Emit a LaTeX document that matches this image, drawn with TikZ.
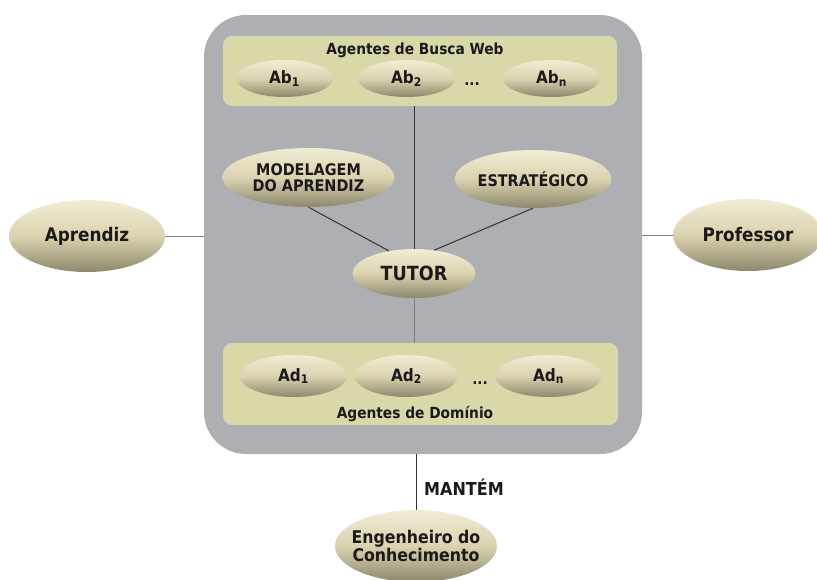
\documentclass[tikz,border=0pt]{standalone}
\usepackage{fontspec}
\setmainfont{DejaVu Sans Condensed}
\usetikzlibrary{shapes.geometric}
\definecolor{boxgray}{HTML}{ADAFB3}
\definecolor{innerbox}{HTML}{D9D8A8}
\definecolor{elltop}{HTML}{F1ECD4}
\definecolor{ellmid}{HTML}{DAD3B0}
\definecolor{ellbot}{HTML}{8C886C}
\definecolor{ink}{HTML}{1A1A1A}
\tikzset{
  ell/.style={ellipse, inner sep=0pt, top color=elltop, bottom color=ellbot,
    middle color=ellmid, text=ink, font=\bfseries, align=center},
  inline/.style={draw=black!80, line width=1pt},
  outline/.style={draw=black!50, line width=1pt},
  lbl/.style={text=ink, font=\bfseries, inner sep=0pt},
}
\begin{document}
\begin{tikzpicture}[x=1pt,y=-1pt]
\useasboundingbox (0,0) rectangle (817,579);
% outer gray panel
\node[fill=boxgray, rounded corners=42pt, minimum width=438pt, minimum height=439pt, inner sep=0pt] (outer) at (423,234.5) {};
% inner boxes
\node[fill=innerbox, rounded corners=9pt, minimum width=394pt, minimum height=70pt, inner sep=0pt] (topbox) at (420,71) {};
\node[fill=innerbox, rounded corners=9pt, minimum width=395pt, minimum height=82pt, inner sep=0pt] (botbox) at (420.5,384) {};
% titles
\node[lbl, font=\bfseries\fontsize{15.3}{17}\selectfont, anchor=base] (t1) at (415,54) {Agentes de Busca Web};
\node[lbl, font=\bfseries\fontsize{15.3}{17}\selectfont, anchor=base] (t2) at (415,418) {Agentes de Domínio};
% web search agents
\node[ell, minimum width=97pt, minimum height=37pt, font=\bfseries\fontsize{17}{19}\selectfont] (ab1) at (284.5,78.5) {Ab\textsubscript{1}};
\node[ell, minimum width=97pt, minimum height=37pt, font=\bfseries\fontsize{17}{19}\selectfont] (ab2) at (406.5,78.5) {Ab\textsubscript{2}};
\node[ell, minimum width=97pt, minimum height=37pt, font=\bfseries\fontsize{17}{19}\selectfont] (abn) at (551.5,78.5) {Ab\textsubscript{n}};
\node[lbl, font=\bfseries\fontsize{15}{17}\selectfont, anchor=base] (dots1) at (472,85) {...};
% domain agents
\node[ell, minimum width=107pt, minimum height=42pt, font=\bfseries\fontsize{17}{19}\selectfont] (ad1) at (293.5,376) {Ad\textsubscript{1}};
\node[ell, minimum width=103pt, minimum height=42pt, font=\bfseries\fontsize{17}{19}\selectfont] (ad2) at (406.5,376) {Ad\textsubscript{2}};
\node[ell, minimum width=107pt, minimum height=42pt, font=\bfseries\fontsize{17}{19}\selectfont] (adn) at (548.5,376) {Ad\textsubscript{n}};
\node[lbl, font=\bfseries\fontsize{15}{17}\selectfont, anchor=base] (dots2) at (480,384) {...};
% central agents
\node[ell, minimum width=172pt, minimum height=59pt, font=\bfseries\fontsize{16}{16.5}\selectfont] (mod) at (308.5,177.5) {MODELAGEM\\DO APRENDIZ};
\node[ell, minimum width=150pt, minimum height=58pt, font=\bfseries\fontsize{16}{17}\selectfont] (est) at (533,179) {ESTRATÉGICO};
\node[ell, minimum width=123pt, minimum height=49pt, font=\bfseries\fontsize{19.5}{21}\selectfont] (tutor) at (414,273.5) {TUTOR};
% external actors
\node[ell, minimum width=156pt, minimum height=72pt, font=\bfseries\fontsize{18.7}{20}\selectfont] (apr) at (87,236) {Aprendiz};
\node[ell, minimum width=150pt, minimum height=72pt, font=\bfseries\fontsize{18.7}{20}\selectfont] (prof) at (748,235) {Professor};
\node[ell, inner xsep=-10pt, minimum width=162pt, minimum height=72pt, font=\bfseries\fontsize{17.5}{18.5}\selectfont] (eng) at (416,546) {Engenheiro do\\Conhecimento};
\node[lbl, font=\bfseries\fontsize{17.8}{19}\selectfont, anchor=base west] (mantem) at (424,495) {MANTÉM};
% connectors
\draw[inline] (tutor.north) -- (tutor.north |- topbox.south);
\draw[outline] (tutor.south) -- (tutor.south |- botbox.north);
\draw[inline] (mod.south) -- (tutor.138);
\draw[inline] (est.south) -- (tutor.49);
\draw[outline] (apr.east) -- (apr.east -| outer.west);
\draw[outline] (prof.west) -- (prof.west -| outer.east);
\draw[inline] (eng.north) -- (eng.north |- outer.south);
\end{tikzpicture}
\end{document}
